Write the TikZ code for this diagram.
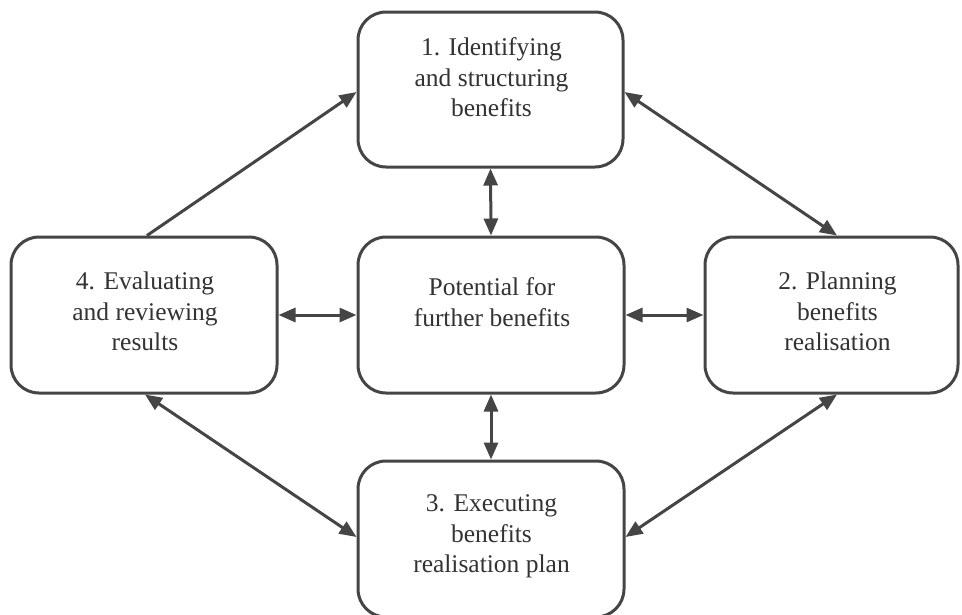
\documentclass[tikz,border=0pt]{standalone}
\usepackage{fontspec}
\setmainfont{Liberation Serif}
\usetikzlibrary{arrows.meta,calc}
\definecolor{ln}{HTML}{454545}
\definecolor{tx}{HTML}{333333}
\begin{document}
\begin{tikzpicture}[x=1pt,y=-1pt,
  box/.style={draw=ln,line width=3pt,rounded corners=28pt,fill=white,inner sep=0pt},
  lbl/.style={text=tx,align=center,anchor=north,inner sep=0pt,font=\fontsize{25.5}{30.5}\selectfont},
  tip/.style={Triangle[length=17pt,width=14pt]},
  conn/.style={draw=ln,line width=3pt},
  one/.style={conn,-{Triangle[length=17pt,width=14pt]}},
  two/.style={conn,{Triangle[length=17pt,width=14pt]}-{Triangle[length=17pt,width=14pt]}}]
\useasboundingbox (0,0) rectangle (962,614);
\node[box,minimum width=265pt,minimum height=155pt] (b1) at (490.5,89.5) {};
\node[box,minimum width=266pt,minimum height=156pt] (c) at (491,315) {};
\node[box,minimum width=266pt,minimum height=156pt] (b4) at (144,315) {};
\node[box,minimum width=253pt,minimum height=156pt] (b2) at (831.5,315) {};
\node[box,minimum width=266pt,minimum height=156pt] (b3) at (491,539) {};
\node[lbl] (t1) at (491.5,37.6) {1. Identifying\\and structuring\\benefits};
\node[lbl] (tc) at (492,277.6) {Potential for\\further benefits};
\node[lbl] (t4) at (145,271.6) {4. Evaluating\\and reviewing\\results};
\node[lbl] (t2) at (837.5,271.6) {2. Planning\\benefits\\realisation};
\node[lbl] (t3) at (491.5,494.6) {3. Executing\\benefits\\realisation plan};
\coordinate (b2n) at ($(b2.north)+(5.5,0)$);
\coordinate (b2s) at ($(b2.south)+(5.5,0)$);
\coordinate (b1w) at ($(b1.west)+(0,2.5)$);
\coordinate (b1e) at ($(b1.east)+(0,2.5)$);
\coordinate (b4n) at ($(b4.north)+(3,0)$);
\coordinate (b4s) at ($(b4.south)+(1,0)$);
\coordinate (b3w) at ($(b3.west)+(0,-2)$);
\coordinate (b3e) at ($(b3.east)+(0,-2)$);
\path[one] (b4n) -- (b1w);
\path[two] (b1e) -- (b2n);
\path[two] (b4s) -- (b3w);
\path[two] (b2s) -- (b3e);
\path[two] (b1.south) -- (c.north);
\path[two] (c.south) -- (b3.north);
\path[two] (b4.east) -- (c.west);
\path[two] (c.east) -- (b2.west);
\end{tikzpicture}
\end{document}
